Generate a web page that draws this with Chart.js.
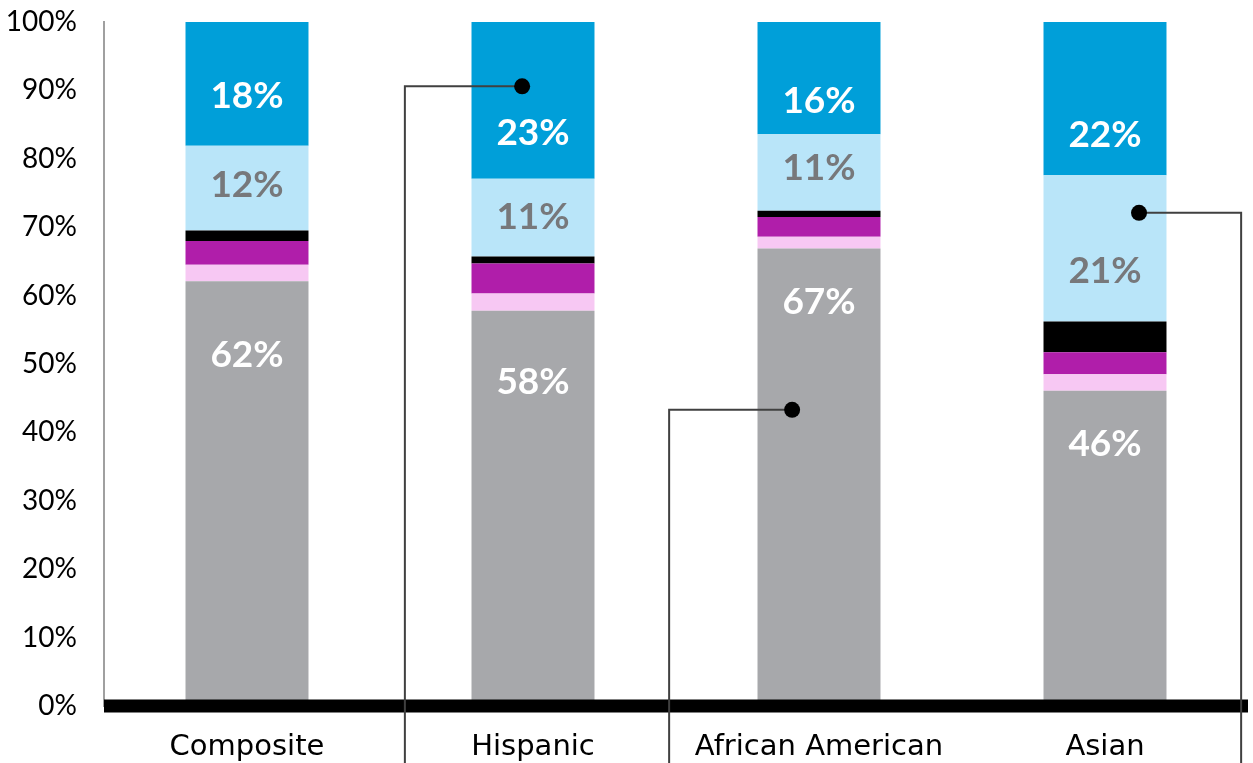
<!DOCTYPE html>
<html>
<head>
<meta charset="utf-8">
<title>Stacked share by group</title>
<script src="https://cdn.jsdelivr.net/npm/chart.js@4/dist/chart.umd.min.js"></script>
<style>
  html, body { margin: 0; padding: 0; background: #fff; }
  #wrap { width: 1253px; height: 763px; }
</style>
</head>
<body>
<div id="wrap"><canvas id="c" width="1253" height="763"></canvas></div>
<script>
// Groups along the x axis
const categories = ['Composite', 'Hispanic', 'African American', 'Asian'];

// Segment shares (%), bottom to top
const gray      = [62.1, 57.8, 66.9, 46.1];
const pink      = [2.4, 2.5, 1.7, 2.4];
const purple    = [3.5, 4.4, 2.9, 3.2];
const black     = [1.5, 1.0, 0.9, 4.5];
const lightBlue = [12.4, 11.4, 11.2, 21.4];
const blue      = [18.1, 22.9, 16.4, 22.4];

// Y axis tick values
const yTicks = [0, 10, 20, 30, 40, 50, 60, 70, 80, 90, 100];

// Where each in-bar value label sits (in axis %)
const grayLabelAt      = [51.3, 47.4, 59.1, 38.3];
const lightBlueLabelAt = [76.2, 71.5, 78.7, 63.6];
const blueLabelAt      = [89.2, 83.8, 88.5, 83.5];

// Callout leader lines: dot (x index, y %) and the x index of the elbow
const callouts = [
  { dotX: 0.962, dotY: 90.6, elbowX: 0.552 },
  { dotX: 1.906, dotY: 43.3, elbowX: 1.476 },
  { dotX: 3.119, dotY: 72.1, elbowX: 3.476 }
];

const FONT = 'Lato, "Open Sans", sans-serif';
const CAT_FONT = '"DejaVu Sans", Lato, sans-serif';

const valueLabels = {
  id: 'valueLabels',
  afterDatasetsDraw(chart) {
    const { ctx, chartArea, scales: { x, y } } = chart;
    // heavy baseline across the plot
    const y0 = y.getPixelForValue(0);
    ctx.save();
    ctx.fillStyle = '#000';
    ctx.fillRect(chartArea.left, y0 - 6.5, chartArea.right - chartArea.left, 13);

    const groups = [
      { values: gray, at: grayLabelAt, color: '#ffffff' },
      { values: lightBlue, at: lightBlueLabelAt, color: '#77787b' },
      { values: blue, at: blueLabelAt, color: '#ffffff' }
    ];
    ctx.font = 'bold 37px ' + FONT;
    ctx.textAlign = 'center';
    ctx.textBaseline = 'middle';
    groups.forEach(g => {
      ctx.fillStyle = g.color;
      g.values.forEach((v, i) => {
        ctx.fillText(Math.round(v) + '%', x.getPixelForValue(i), y.getPixelForValue(g.at[i]));
      });
    });
    ctx.restore();
  }
};

const leaderLines = {
  id: 'leaderLines',
  afterDraw(chart) {
    const { ctx, scales: { x, y } } = chart;
    ctx.save();
    ctx.strokeStyle = '#404040';
    ctx.lineWidth = 2;
    ctx.fillStyle = '#000';
    callouts.forEach(c => {
      const px = x.getPixelForValue(c.dotX);
      const py = y.getPixelForValue(c.dotY);
      const ex = x.getPixelForValue(c.elbowX);
      ctx.beginPath();
      ctx.moveTo(px, py);
      ctx.lineTo(ex, py);
      ctx.lineTo(ex, chart.height);
      ctx.stroke();
      ctx.beginPath();
      ctx.arc(px, py, 8, 0, Math.PI * 2);
      ctx.fill();
    });
    ctx.restore();
  }
};

const mk = (data, color) => ({
  data, backgroundColor: color, borderWidth: 0,
  barPercentage: 0.43, categoryPercentage: 1
});

new Chart(document.getElementById('c'), {
  type: 'bar',
  data: {
    labels: categories,
    datasets: [
      mk(gray, '#a7a8ab'),
      mk(pink, '#f7c8f3'),
      mk(purple, '#b01eaa'),
      mk(black, '#000000'),
      mk(lightBlue, '#b9e5f9'),
      mk(blue, '#009fd9')
    ]
  },
  options: {
    responsive: false,
    devicePixelRatio: 1,
    animation: false,
    layout: { padding: { top: 22, right: 5, left: 0, bottom: 0 } },
    plugins: { legend: { display: false }, tooltip: { enabled: false } },
    scales: {
      x: {
        stacked: true,
        grid: { display: false, drawTicks: false },
        border: { display: false },
        ticks: { color: '#000', font: { family: CAT_FONT, size: 29 }, padding: 24 },
        afterFit(s) { s.height = 57; s.paddingLeft = 0; s.paddingRight = 0; }
      },
      y: {
        stacked: true,
        min: 0, max: 100,
        grid: { display: false, drawTicks: false },
        border: { color: '#a0a0a0', width: 2 },
        afterBuildTicks(s) { s.ticks = yTicks.map(v => ({ value: v })); },
        ticks: {
          color: '#000',
          font: { family: FONT, size: 28 },
          padding: 27,
          callback: v => v + '%'
        },
        afterFit(s) { s.width = 104; s.paddingTop = 0; s.paddingBottom = 0; }
      }
    }
  },
  plugins: [valueLabels, leaderLines]
});
</script>
</body>
</html>
